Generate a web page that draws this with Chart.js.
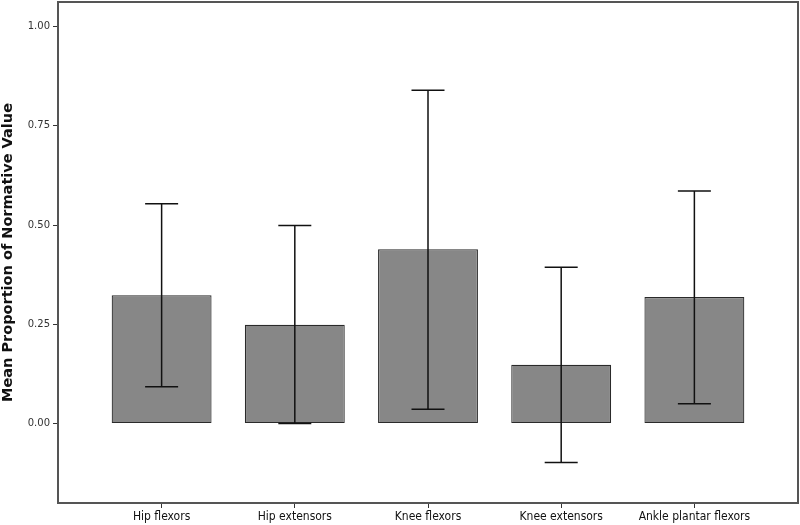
<!DOCTYPE html>
<html lang="en">
  <head>
    <meta charset="UTF-8" />
    <title>Mean Proportion of Normative Value</title>
    <script src="https://cdn.jsdelivr.net/npm/chart.js"></script>
    <style>
      * {
        margin: 0;
        padding: 0;
        box-sizing: border-box;
      }

      body {
        background: #fff;
        width: 800px;
        height: 525px;
      }

      .chart-box {
        position: relative;
        width: 800px;
        height: 525px;
      }
    </style>
  </head>
  <body>
    <div class="chart-box">
      <canvas id="barChart"></canvas>
    </div>

    <script>
      const muscles = ["Hip flexors", "Hip extensors", "Knee flexors", "Knee extensors", "Ankle plantar flexors"];
      const means = [0.323, 0.249, 0.439, 0.148, 0.319];
      const errLow = [0.093, 0.0, 0.036, -0.098, 0.05];
      const errHigh = [0.554, 0.499, 0.84, 0.394, 0.586];
      const yTicks = [0, 0.25, 0.5, 0.75, 1.0];

      // error bars + frame around the plot
      const errorBars = {
        id: "errorBars",
        afterDatasetsDraw(chart) {
          const ctx = chart.ctx;
          const xs = chart.scales.x;
          const ys = chart.scales.y;
          ctx.save();
          ctx.strokeStyle = "#111";
          ctx.lineWidth = 1.5;
          muscles.forEach((m, i) => {
            const x = xs.getPixelForValue(i);
            const top = ys.getPixelForValue(errHigh[i]);
            const bot = ys.getPixelForValue(errLow[i]);
            ctx.beginPath();
            ctx.moveTo(x, top);
            ctx.lineTo(x, bot);
            ctx.moveTo(x - 16.5, top);
            ctx.lineTo(x + 16.5, top);
            ctx.moveTo(x - 16.5, bot);
            ctx.lineTo(x + 16.5, bot);
            ctx.stroke();
          });
          const a = chart.chartArea;
          ctx.strokeStyle = "#555";
          ctx.lineWidth = 2;
          ctx.strokeRect(a.left, a.top, a.right - a.left, a.bottom - a.top);
          ctx.restore();
        },
      };

      const barCtx = document.getElementById("barChart").getContext("2d");
      new Chart(barCtx, {
        type: "bar",
        data: {
          datasets: [
            {
              data: means.map((v, i) => ({ x: i, y: v })),
              backgroundColor: "#878787",
              borderColor: "#2a2a2a",
              borderWidth: 1.2,
              borderSkipped: false,
              barPercentage: 0.75,
              categoryPercentage: 1,
            },
          ],
        },
        options: {
          responsive: true,
          maintainAspectRatio: false,
          animation: false,
          layout: {
            padding: { top: 2, right: 2, left: 0, bottom: 0 },
          },
          plugins: {
            legend: { display: false },
            tooltip: { enabled: false },
          },
          scales: {
            x: {
              type: "linear",
              offset: false,
              min: -0.778,
              max: 4.778,
              afterBuildTicks: (s) => {
                s.ticks = muscles.map((m, i) => ({ value: i }));
              },
              afterFit: (s) => {
                s.height = 22;
                s.paddingLeft = 0;
                s.paddingRight = 0;
              },
              grid: {
                offset: false,
                drawOnChartArea: false,
                drawTicks: true,
                tickLength: 5,
                tickColor: "#333",
              },
              border: { display: false },
              ticks: {
                padding: 2,
                maxRotation: 0,
                autoSkip: false,
                color: "#111",
                font: { family: "'Liberation Sans Narrow', 'DejaVu Sans Condensed', sans-serif", size: 12 },
                callback: (v) => muscles[v],
              },
            },
            y: {
              min: -0.2,
              max: 1.062,
              afterBuildTicks: (s) => {
                s.ticks = yTicks.map((v) => ({ value: v }));
              },
              afterFit: (s) => {
                s.width = 58;
                s.paddingTop = 0;
                s.paddingBottom = 0;
              },
              grid: {
                drawOnChartArea: false,
                drawTicks: true,
                tickLength: 5,
                tickColor: "#333",
              },
              border: { display: false },
              ticks: {
                padding: 3,
                color: "#333",
                font: { family: "'DejaVu Sans', sans-serif", size: 10 },
                callback: (v) => Number(v).toFixed(2),
              },
              title: {
                display: true,
                text: "Mean Proportion of Normative Value",
                color: "#111",
                padding: { top: 0, bottom: 0 },
                font: { family: "'DejaVu Sans', sans-serif", size: 14.5, weight: "bold" },
              },
            },
          },
        },
        plugins: [errorBars],
      });
    </script>
  </body>
</html>
